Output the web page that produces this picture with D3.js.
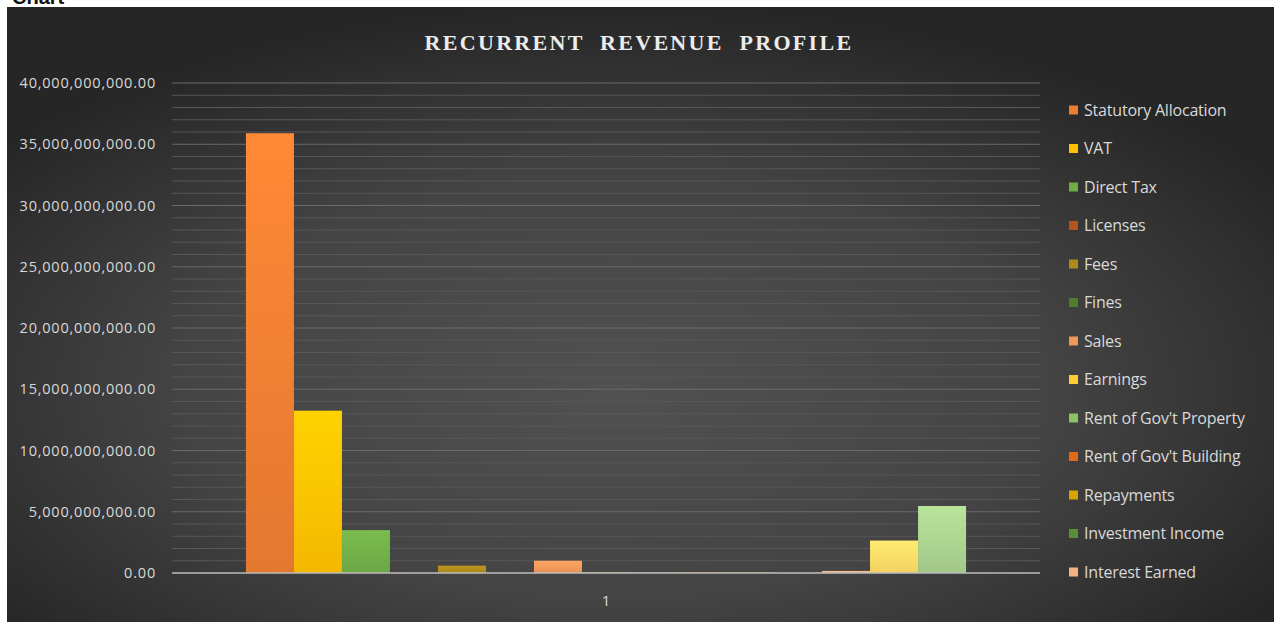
<!DOCTYPE html>
<html>
<head>
<meta charset="utf-8">
<script src="https://cdn.jsdelivr.net/npm/d3@7"></script>
<style>
  body { margin: 0; background: #fff; }
  svg { display: block; }
</style>
</head>
<body>
<div id="d3-container"></div>
<script>
// data
const categories = ['1']
const seriesNames = [
  'Statutory Allocation', 'VAT', 'Direct Tax', 'Licenses', 'Fees', 'Fines',
  'Sales', 'Earnings', "Rent of Gov't Property", "Rent of Gov't Building",
  'Repayments', 'Investment Income', 'Interest Earned', 'Series 14', 'Series 15'
]
const seriesValues = [
  35.9e9, 13.25e9, 3.5e9, 0.02e9, 0.6e9, 0.01e9,
  1.0e9, 0.05e9, 0.03e9, 0.05e9, 0.03e9, 0.02e9, 0.17e9, 2.65e9, 5.47e9
]
const seriesColors = [
  '#ed7d31', '#ffc000', '#70ad47', '#b5541c', '#b08a1a', '#4e7d2e',
  '#f1975a', '#ffcd33', '#8cc168', '#e06a1a', '#d9a300', '#5a8f3a',
  '#f4b183', '#ffd966', '#a9d18e'
]
const legendCount = 13
const yTicks = [0, 5e9, 10e9, 15e9, 20e9, 25e9, 30e9, 35e9, 40e9]

const W = 1274, H = 622
const plot = { left: 172, right: 1040, top: 83, bottom: 573 }

const svg = d3.select('#d3-container')
  .append('svg')
  .attr('width', W)
  .attr('height', H)

const defs = svg.append('defs')

const bg = defs.append('radialGradient')
  .attr('id', 'bg')
  .attr('cx', '0.48').attr('cy', '0.62').attr('r', '0.62')
bg.append('stop').attr('offset', '0%').attr('stop-color', '#515151')
bg.append('stop').attr('offset', '55%').attr('stop-color', '#444')
bg.append('stop').attr('offset', '100%').attr('stop-color', '#262626')

seriesColors.forEach((c, i) => {
  const g = defs.append('linearGradient')
    .attr('id', 'bar' + i)
    .attr('x1', 0).attr('y1', 0).attr('x2', 0).attr('y2', 1)
  g.append('stop').attr('offset', '0%').attr('stop-color', d3.color(c).brighter(0.25))
  g.append('stop').attr('offset', '100%').attr('stop-color', d3.color(c).darker(0.12))
})

// heading above the chart, cut off by the chart box as in the picture
svg.append('text')
  .attr('x', 12).attr('y', 4)
  .attr('font-family', 'Liberation Sans, sans-serif')
  .attr('font-weight', 'bold')
  .attr('font-size', 20)
  .attr('fill', '#111')
  .text('Chart')

svg.append('rect')
  .attr('x', 7).attr('y', 7)
  .attr('width', W - 7).attr('height', H - 7)
  .attr('fill', 'url(#bg)')

const y = d3.scaleLinear().domain([0, 40e9]).range([plot.bottom, plot.top])
const x0 = d3.scaleBand().domain(categories).range([plot.left, plot.right])
const x1 = d3.scaleBand()
  .domain(d3.range(seriesNames.length))
  .range([0, x0.bandwidth()])
  .paddingInner(0)
  .paddingOuter(1.54)

// minor + major gridlines
svg.append('g')
  .selectAll('line')
  .data(d3.range(1e9, 40e9 + 1, 1e9).filter(v => v % 5e9 !== 0))
  .join('line')
  .attr('x1', plot.left).attr('x2', plot.right)
  .attr('y1', d => y(d)).attr('y2', d => y(d))
  .attr('stroke', '#575757')
  .attr('stroke-width', 1)

svg.append('g')
  .selectAll('line')
  .data(yTicks.filter(v => v > 0))
  .join('line')
  .attr('x1', plot.left).attr('x2', plot.right)
  .attr('y1', d => y(d)).attr('y2', d => y(d))
  .attr('stroke', '#6a6a6a')
  .attr('stroke-width', 1)

// y axis labels
svg.append('g')
  .selectAll('text')
  .data(yTicks)
  .join('text')
  .attr('x', 156)
  .attr('y', d => y(d))
  .attr('dy', '0.35em')
  .attr('text-anchor', 'end')
  .attr('font-family', 'Open Sans, sans-serif')
  .attr('font-size', 14.5)
  .attr('letter-spacing', 0.8)
  .attr('fill', '#d9d9d9')
  .text(d => d3.format(',.2f')(d))

// bars
const rows = seriesValues.map((v, i) => ({ name: seriesNames[i], value: v, index: i }))
svg.append('g')
  .selectAll('g')
  .data(categories)
  .join('g')
  .attr('transform', d => `translate(${x0(d)},0)`)
  .selectAll('rect')
  .data(rows)
  .join('rect')
  .attr('x', d => x1(d.index))
  .attr('width', x1.bandwidth())
  .attr('y', d => y(d.value))
  .attr('height', d => y(0) - y(d.value))
  .attr('fill', d => `url(#bar${d.index})`)

// baseline
svg.append('line')
  .attr('x1', plot.left).attr('x2', plot.right)
  .attr('y1', y(0)).attr('y2', y(0))
  .attr('stroke', '#bdbdbd')
  .attr('stroke-width', 1.5)

// category label
svg.append('g')
  .selectAll('text')
  .data(categories)
  .join('text')
  .attr('x', d => x0(d) + x0.bandwidth() / 2)
  .attr('y', 606)
  .attr('text-anchor', 'middle')
  .attr('font-family', 'Open Sans, sans-serif')
  .attr('font-size', 15)
  .attr('fill', '#d9d9d9')
  .text(d => d)

// title
svg.append('text')
  .attr('x', 639).attr('y', 50)
  .attr('text-anchor', 'middle')
  .attr('font-family', 'Liberation Serif, serif')
  .attr('font-weight', 'bold')
  .attr('font-size', 22)
  .attr('letter-spacing', 2.3)
  .attr('word-spacing', 8)
  .attr('fill', '#ececec')
  .text('RECURRENT REVENUE PROFILE')

// legend (only the first entries fit)
const legend = svg.append('g')
  .selectAll('g')
  .data(rows.slice(0, legendCount))
  .join('g')
  .attr('transform', (d, i) => `translate(1069,${110 + i * 38.5})`)

legend.append('rect')
  .attr('x', 0).attr('y', -4.5)
  .attr('width', 9).attr('height', 9)
  .attr('fill', d => seriesColors[d.index])

legend.append('text')
  .attr('x', 15)
  .attr('dy', '0.35em')
  .attr('font-family', 'Open Sans, sans-serif')
  .attr('font-size', 16)
  .attr('letter-spacing', -0.2)
  .attr('fill', '#d9d9d9')
  .text(d => d.name)
</script>
</body>
</html>
